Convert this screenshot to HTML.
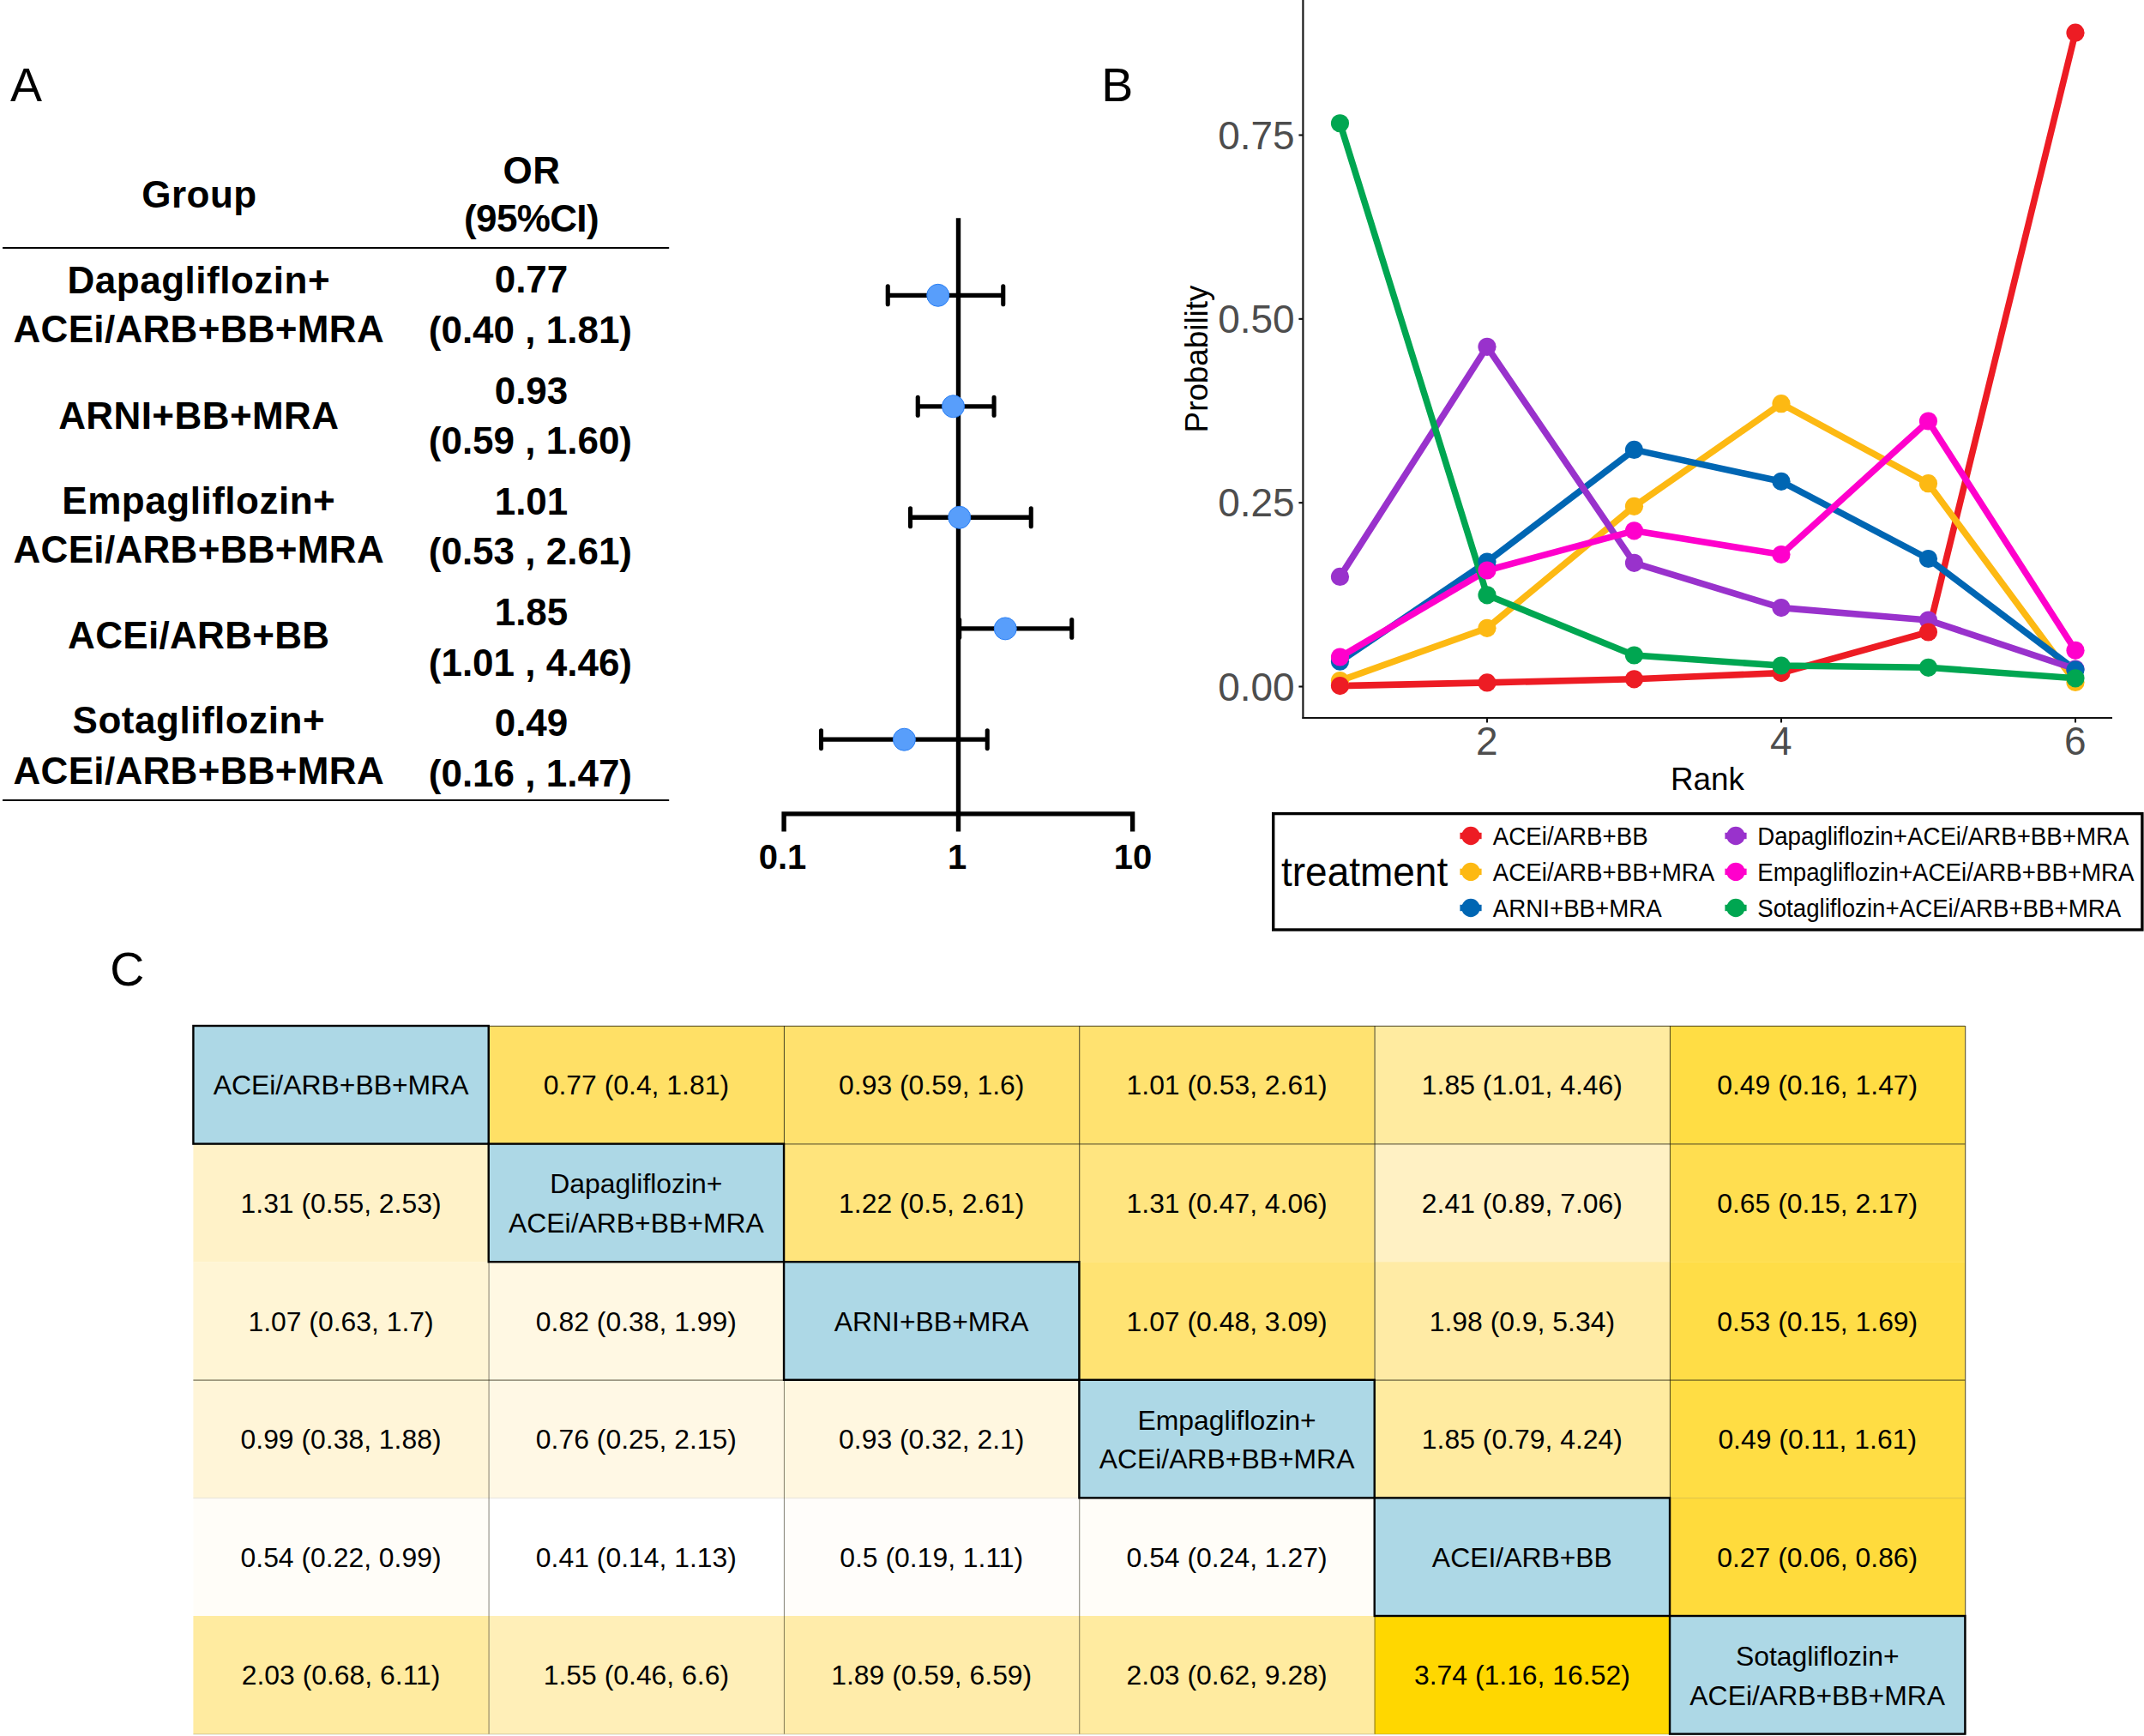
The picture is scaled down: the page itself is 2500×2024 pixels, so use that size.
<!DOCTYPE html>
<html lang="en"><head><meta charset="utf-8"><title>Figure</title>
<style>
html,body{margin:0;padding:0;background:#fff;}
body{width:2500px;height:2024px;overflow:hidden;}
svg{display:block;font-family:"Liberation Sans", sans-serif;}
.b{font-weight:700;}
.m{text-anchor:middle;}
.e{text-anchor:end;}
</style></head><body>
<svg width="2500" height="2024" viewBox="0 0 2500 2024">
<rect x="0" y="0" width="2500" height="2024" fill="#ffffff"/>
<g font-size="55.5" fill="#000">
<text x="12" y="118">A</text>
<text x="1284.3" y="118">B</text>
<text x="128.3" y="1148.5">C</text>
</g>
<g class="b m" font-size="44" fill="#000">
<text x="232.5" y="242" letter-spacing="0.5">Group</text>
<text x="620.0" y="213.75" letter-spacing="0.6">OR</text>
<text x="619.5" y="270" letter-spacing="-0.65">(95%CI)</text>
<text x="231.86" y="342" letter-spacing="0.52">Dapagliflozin+</text>
<text x="231.75" y="399.25" letter-spacing="0.31">ACEi/ARB+BB+MRA</text>
<text x="231.81" y="500" letter-spacing="0.42">ARNI+BB+MRA</text>
<text x="231.86" y="599.25" letter-spacing="0.52">Empagliflozin+</text>
<text x="231.75" y="656.25" letter-spacing="0.31">ACEi/ARB+BB+MRA</text>
<text x="231.75" y="756.25" letter-spacing="0.31">ACEi/ARB+BB</text>
<text x="231.86" y="855" letter-spacing="0.52">Sotagliflozin+</text>
<text x="231.75" y="913.75" letter-spacing="0.31">ACEi/ARB+BB+MRA</text>
<text x="619.5" y="341.25">0.77</text>
<text x="618.4" y="400.00">(0.40 , 1.81)</text>
<text x="619.5" y="470.50">0.93</text>
<text x="618.4" y="529.20">(0.59 , 1.60)</text>
<text x="619.5" y="599.75">1.01</text>
<text x="618.4" y="658.40">(0.53 , 2.61)</text>
<text x="619.5" y="729.00">1.85</text>
<text x="618.4" y="787.60">(1.01 , 4.46)</text>
<text x="619.5" y="858.25">0.49</text>
<text x="618.4" y="916.80">(0.16 , 1.47)</text>
</g>
<line x1="3.8" y1="288.9" x2="779.4" y2="288.9" stroke="#000" stroke-width="2" stroke-linecap="round"/>
<line x1="3.8" y1="932.9" x2="779.4" y2="932.9" stroke="#000" stroke-width="2" stroke-linecap="round"/>
<g stroke="#000" stroke-width="5.4" fill="none" stroke-linecap="butt" stroke-linejoin="miter">
<line x1="1117.5" y1="254.2" x2="1117.5" y2="969.6"/>
<path d="M914.1 969.6 V948.9 H1320.6 V969.6"/>
<line x1="1035.25" y1="344.3" x2="1169.75" y2="344.3" stroke-width="5.3"/>
<line x1="1035.25" y1="333.90" x2="1035.25" y2="354.70" stroke-width="5.1" stroke-linecap="round"/>
<line x1="1169.75" y1="333.90" x2="1169.75" y2="354.70" stroke-width="5.1" stroke-linecap="round"/>
<line x1="1070.25" y1="473.8" x2="1159.10" y2="473.8" stroke-width="5.3"/>
<line x1="1070.25" y1="463.40" x2="1070.25" y2="484.20" stroke-width="5.1" stroke-linecap="round"/>
<line x1="1159.10" y1="463.40" x2="1159.10" y2="484.20" stroke-width="5.1" stroke-linecap="round"/>
<line x1="1061.50" y1="603.25" x2="1202.25" y2="603.25" stroke-width="5.3"/>
<line x1="1061.50" y1="592.85" x2="1061.50" y2="613.65" stroke-width="5.1" stroke-linecap="round"/>
<line x1="1202.25" y1="592.85" x2="1202.25" y2="613.65" stroke-width="5.1" stroke-linecap="round"/>
<line x1="1118.70" y1="732.9" x2="1249.75" y2="732.9" stroke-width="5.3"/>
<line x1="1118.70" y1="722.50" x2="1118.70" y2="743.30" stroke-width="5.1" stroke-linecap="round"/>
<line x1="1249.75" y1="722.50" x2="1249.75" y2="743.30" stroke-width="5.1" stroke-linecap="round"/>
<line x1="957.50" y1="862.2" x2="1151.25" y2="862.2" stroke-width="5.3"/>
<line x1="957.50" y1="851.80" x2="957.50" y2="872.60" stroke-width="5.1" stroke-linecap="round"/>
<line x1="1151.25" y1="851.80" x2="1151.25" y2="872.60" stroke-width="5.1" stroke-linecap="round"/>
</g>
<g fill="#589efb" stroke="#2a7ff4" stroke-width="1">
<circle cx="1093.75" cy="344.3" r="13"/>
<circle cx="1111.50" cy="473.8" r="13"/>
<circle cx="1118.75" cy="603.25" r="13"/>
<circle cx="1172.25" cy="732.9" r="13"/>
<circle cx="1054.40" cy="862.2" r="13"/>
</g>
<g class="b m" font-size="40" fill="#000">
<text x="912.5" y="1012.5">0.1</text>
<text x="1116" y="1012.5">1</text>
<text x="1321" y="1012.5">10</text>
</g>
<g fill="none" stroke-width="7.6" stroke-linejoin="round" stroke-linecap="butt">
<polyline points="1562.50,799.60 1734.00,795.90 1905.50,791.80 2077.00,784.60 2248.50,737.00 2420.00,38.20" stroke="#ed1c24"/>
<polyline points="1562.50,793.60 1734.00,732.30 1905.50,590.30 2077.00,470.70 2248.50,563.70 2420.00,795.50" stroke="#fdb913"/>
<polyline points="1562.50,771.20 1734.00,655.00 1905.50,524.40 2077.00,561.30 2248.50,651.50 2420.00,781.00" stroke="#0066b3"/>
<polyline points="1562.50,672.40 1734.00,404.30 1905.50,656.30 2077.00,708.60 2248.50,723.00 2420.00,780.00" stroke="#9932cc"/>
<polyline points="1562.50,766.00 1734.00,665.00 1905.50,618.80 2077.00,646.50 2248.50,491.00 2420.00,758.30" stroke="#ff00cc"/>
<polyline points="1562.50,143.75 1734.00,693.80 1905.50,764.00 2077.00,776.00 2248.50,778.30 2420.00,790.80" stroke="#00a651"/>
</g>
<g fill="#fdb913">
<circle cx="1562.50" cy="793.60" r="10.6"/>
<circle cx="1734.00" cy="732.30" r="10.6"/>
<circle cx="1905.50" cy="590.30" r="10.6"/>
<circle cx="2077.00" cy="470.70" r="10.6"/>
<circle cx="2248.50" cy="563.70" r="10.6"/>
<circle cx="2420.00" cy="795.50" r="10.6"/>
</g>
<g fill="#9932cc">
<circle cx="1562.50" cy="672.40" r="10.6"/>
<circle cx="1734.00" cy="404.30" r="10.6"/>
<circle cx="1905.50" cy="656.30" r="10.6"/>
<circle cx="2077.00" cy="708.60" r="10.6"/>
<circle cx="2248.50" cy="723.00" r="10.6"/>
<circle cx="2420.00" cy="780.00" r="10.6"/>
</g>
<g fill="#0066b3">
<circle cx="1562.50" cy="771.20" r="10.6"/>
<circle cx="1734.00" cy="655.00" r="10.6"/>
<circle cx="1905.50" cy="524.40" r="10.6"/>
<circle cx="2077.00" cy="561.30" r="10.6"/>
<circle cx="2248.50" cy="651.50" r="10.6"/>
<circle cx="2420.00" cy="781.00" r="10.6"/>
</g>
<g fill="#ff00cc">
<circle cx="1562.50" cy="766.00" r="10.6"/>
<circle cx="1734.00" cy="665.00" r="10.6"/>
<circle cx="1905.50" cy="618.80" r="10.6"/>
<circle cx="2077.00" cy="646.50" r="10.6"/>
<circle cx="2248.50" cy="491.00" r="10.6"/>
<circle cx="2420.00" cy="758.30" r="10.6"/>
</g>
<g fill="#ed1c24">
<circle cx="1562.50" cy="799.60" r="10.6"/>
<circle cx="1734.00" cy="795.90" r="10.6"/>
<circle cx="1905.50" cy="791.80" r="10.6"/>
<circle cx="2077.00" cy="784.60" r="10.6"/>
<circle cx="2248.50" cy="737.00" r="10.6"/>
<circle cx="2420.00" cy="38.20" r="10.6"/>
</g>
<g fill="#00a651">
<circle cx="1562.50" cy="143.75" r="10.6"/>
<circle cx="1734.00" cy="693.80" r="10.6"/>
<circle cx="1905.50" cy="764.00" r="10.6"/>
<circle cx="2077.00" cy="776.00" r="10.6"/>
<circle cx="2248.50" cy="778.30" r="10.6"/>
<circle cx="2420.00" cy="790.80" r="10.6"/>
</g>
<g stroke="#111" stroke-width="2.1" fill="none">
<line x1="1519.4" y1="0" x2="1519.4" y2="837.9"/>
<line x1="1518.5" y1="837.0" x2="2463.0" y2="837.0"/>
<line x1="1514.4" y1="800.50" x2="1519.4" y2="800.50"/>
<line x1="1514.4" y1="586.17" x2="1519.4" y2="586.17"/>
<line x1="1514.4" y1="371.85" x2="1519.4" y2="371.85"/>
<line x1="1514.4" y1="157.53" x2="1519.4" y2="157.53"/>
<line x1="1734.00" y1="837.0" x2="1734.00" y2="842.5"/>
<line x1="2077.00" y1="837.0" x2="2077.00" y2="842.5"/>
<line x1="2420.00" y1="837.0" x2="2420.00" y2="842.5"/>
</g>
<g font-size="46" fill="#4d4d4d" class="e">
<text x="1509.7" y="816.50">0.00</text>
<text x="1509.7" y="602.17">0.25</text>
<text x="1509.7" y="387.85">0.50</text>
<text x="1509.7" y="173.53">0.75</text>
</g>
<g font-size="46" fill="#4d4d4d" class="m">
<text x="1733.70" y="879.8">2</text>
<text x="2076.70" y="879.8">4</text>
<text x="2419.70" y="879.8">6</text>
</g>
<g font-size="36.8" fill="#000" class="m">
<text x="1991" y="920.5">Rank</text>
<text transform="translate(1408 418.5) rotate(-90)" x="0" y="0">Probability</text>
</g>
<rect x="1484.7" y="948.6" width="1013.2" height="135.4" fill="#fff" stroke="#000" stroke-width="3.4"/>
<text transform="translate(1494 1033.2) scale(1 1.04)" font-size="46" fill="#000">treatment</text>
<g font-size="27.7" fill="#000">
<line x1="1702.4" y1="974.5" x2="1727.6" y2="974.5" stroke="#ed1c24" stroke-width="7.4"/>
<circle cx="1715" cy="974.5" r="10.7" fill="#ed1c24"/>
<text transform="translate(1740.8 985.0) scale(1 1.04)">ACEi/ARB+BB</text>
<line x1="1702.4" y1="1016.4" x2="1727.6" y2="1016.4" stroke="#fdb913" stroke-width="7.4"/>
<circle cx="1715" cy="1016.4" r="10.7" fill="#fdb913"/>
<text transform="translate(1740.8 1026.8) scale(1 1.04)">ACEi/ARB+BB+MRA</text>
<line x1="1702.4" y1="1058.5" x2="1727.6" y2="1058.5" stroke="#0066b3" stroke-width="7.4"/>
<circle cx="1715" cy="1058.5" r="10.7" fill="#0066b3"/>
<text transform="translate(1740.8 1068.8) scale(1 1.04)">ARNI+BB+MRA</text>
<line x1="2011.4" y1="974.5" x2="2036.6" y2="974.5" stroke="#9932cc" stroke-width="7.4"/>
<circle cx="2024" cy="974.5" r="10.7" fill="#9932cc"/>
<text transform="translate(2049.2 985.0) scale(1 1.04)">Dapagliflozin+ACEi/ARB+BB+MRA</text>
<line x1="2011.4" y1="1016.4" x2="2036.6" y2="1016.4" stroke="#ff00cc" stroke-width="7.4"/>
<circle cx="2024" cy="1016.4" r="10.7" fill="#ff00cc"/>
<text transform="translate(2049.2 1026.8) scale(1 1.04)">Empagliflozin+ACEi/ARB+BB+MRA</text>
<line x1="2011.4" y1="1058.5" x2="2036.6" y2="1058.5" stroke="#00a651" stroke-width="7.4"/>
<circle cx="2024" cy="1058.5" r="10.7" fill="#00a651"/>
<text transform="translate(2049.2 1068.8) scale(1 1.04)">Sotagliflozin+ACEi/ARB+BB+MRA</text>
</g>
<rect x="569.73" y="1196.00" width="344.63" height="137.90" fill="#ffe066"/>
<rect x="914.06" y="1196.00" width="344.63" height="137.90" fill="#ffe16e"/>
<rect x="1258.39" y="1196.00" width="344.63" height="137.90" fill="#ffe270"/>
<rect x="1602.72" y="1196.00" width="344.63" height="137.90" fill="#ffeba0"/>
<rect x="1947.05" y="1196.00" width="344.63" height="137.90" fill="#ffdd44"/>
<rect x="225.40" y="1333.60" width="344.63" height="137.90" fill="#fff2c8"/>
<rect x="914.06" y="1333.60" width="344.63" height="137.90" fill="#ffe47c"/>
<rect x="1258.39" y="1333.60" width="344.63" height="137.90" fill="#ffe580"/>
<rect x="1602.72" y="1333.60" width="344.63" height="137.90" fill="#fff1c4"/>
<rect x="1947.05" y="1333.60" width="344.63" height="137.90" fill="#ffde50"/>
<rect x="225.40" y="1471.20" width="344.63" height="137.90" fill="#fff5d5"/>
<rect x="569.73" y="1471.20" width="344.63" height="137.90" fill="#fff8e3"/>
<rect x="1258.39" y="1471.20" width="344.63" height="137.90" fill="#ffe373"/>
<rect x="1602.72" y="1471.20" width="344.63" height="137.90" fill="#ffeba5"/>
<rect x="1947.05" y="1471.20" width="344.63" height="137.90" fill="#ffdd47"/>
<rect x="225.40" y="1608.80" width="344.63" height="137.90" fill="#fff5d8"/>
<rect x="569.73" y="1608.80" width="344.63" height="137.90" fill="#fff8e5"/>
<rect x="914.06" y="1608.80" width="344.63" height="137.90" fill="#fff7e0"/>
<rect x="1602.72" y="1608.80" width="344.63" height="137.90" fill="#ffeba0"/>
<rect x="1947.05" y="1608.80" width="344.63" height="137.90" fill="#ffdd44"/>
<rect x="225.40" y="1746.40" width="344.63" height="137.90" fill="#fffdf8"/>
<rect x="569.73" y="1746.40" width="344.63" height="137.90" fill="#ffffff"/>
<rect x="914.06" y="1746.40" width="344.63" height="137.90" fill="#fffdfa"/>
<rect x="1258.39" y="1746.40" width="344.63" height="137.90" fill="#fffdf8"/>
<rect x="1947.05" y="1746.40" width="344.63" height="137.90" fill="#ffdb3c"/>
<rect x="225.40" y="1884.00" width="344.63" height="137.90" fill="#ffeba0"/>
<rect x="569.73" y="1884.00" width="344.63" height="137.90" fill="#ffefb8"/>
<rect x="914.06" y="1884.00" width="344.63" height="137.90" fill="#ffecaa"/>
<rect x="1258.39" y="1884.00" width="344.63" height="137.90" fill="#ffeba0"/>
<rect x="1602.72" y="1884.00" width="344.63" height="137.90" fill="#ffd700"/>
<g stroke="#2a2814" stroke-width="1" fill="none">
<line x1="570.08" y1="1196.00" x2="570.08" y2="1333.60" stroke-opacity="0.85"/>
<line x1="570.08" y1="1333.60" x2="570.08" y2="2021.60" stroke-opacity="0.58"/>
<line x1="914.41" y1="1196.00" x2="914.41" y2="1471.20" stroke-opacity="0.85"/>
<line x1="914.41" y1="1471.20" x2="914.41" y2="2021.60" stroke-opacity="0.58"/>
<line x1="1258.74" y1="1196.00" x2="1258.74" y2="1608.80" stroke-opacity="0.85"/>
<line x1="1258.74" y1="1608.80" x2="1258.74" y2="2021.60" stroke-opacity="0.58"/>
<line x1="1603.07" y1="1196.00" x2="1603.07" y2="1746.40" stroke-opacity="0.85"/>
<line x1="1603.07" y1="1746.40" x2="1603.07" y2="2021.60" stroke-opacity="0.58"/>
<line x1="1947.40" y1="1196.00" x2="1947.40" y2="1884.00" stroke-opacity="0.85"/>
<line x1="1947.40" y1="1884.00" x2="1947.40" y2="2021.60" stroke-opacity="0.58"/>
<line x1="2291.73" y1="1196.00" x2="2291.73" y2="2021.60" stroke-opacity="0.85"/>
<line x1="225.40" y1="1196.30" x2="2291.38" y2="1196.30" stroke-opacity="0.85"/>
<line x1="569.73" y1="1333.90" x2="2291.38" y2="1333.90" stroke-opacity="0.85"/>
<line x1="1258.39" y1="1609.10" x2="2291.38" y2="1609.10" stroke-opacity="0.85"/>
<line x1="225.40" y1="1609.10" x2="1258.39" y2="1609.10" stroke-opacity="0.8"/>
<line x1="1602.72" y1="1746.70" x2="2291.38" y2="1746.70" stroke-opacity="0.16"/>
<line x1="225.40" y1="1746.70" x2="1602.72" y2="1746.70" stroke-opacity="0.12"/>
<line x1="225.40" y1="2021.90" x2="2291.38" y2="2021.90" stroke-opacity="0.22"/>
</g>
<rect x="225.40" y="1196.00" width="344.33" height="137.60" fill="#add8e6" stroke="#000" stroke-width="2.4"/>
<rect x="569.73" y="1333.60" width="344.33" height="137.60" fill="#add8e6" stroke="#000" stroke-width="2.4"/>
<rect x="914.06" y="1471.20" width="344.33" height="137.60" fill="#add8e6" stroke="#000" stroke-width="2.4"/>
<rect x="1258.39" y="1608.80" width="344.33" height="137.60" fill="#add8e6" stroke="#000" stroke-width="2.4"/>
<rect x="1602.72" y="1746.40" width="344.33" height="137.60" fill="#add8e6" stroke="#000" stroke-width="2.4"/>
<rect x="1947.05" y="1884.00" width="344.33" height="137.60" fill="#add8e6" stroke="#000" stroke-width="2.4"/>
<g font-size="31.9" fill="#000" class="m">
<text x="397.56" y="1276.40">ACEi/ARB+BB+MRA</text>
<text x="741.89" y="1276.40">0.77 (0.4, 1.81)</text>
<text x="1086.22" y="1276.40">0.93 (0.59, 1.6)</text>
<text x="1430.56" y="1276.40">1.01 (0.53, 2.61)</text>
<text x="1774.88" y="1276.40">1.85 (1.01, 4.46)</text>
<text x="2119.22" y="1276.40">0.49 (0.16, 1.47)</text>
<text x="397.56" y="1414.00">1.31 (0.55, 2.53)</text>
<text x="741.89" y="1391.40">Dapagliflozin+</text>
<text x="741.89" y="1437.10">ACEi/ARB+BB+MRA</text>
<text x="1086.22" y="1414.00">1.22 (0.5, 2.61)</text>
<text x="1430.56" y="1414.00">1.31 (0.47, 4.06)</text>
<text x="1774.88" y="1414.00">2.41 (0.89, 7.06)</text>
<text x="2119.22" y="1414.00">0.65 (0.15, 2.17)</text>
<text x="397.56" y="1551.60">1.07 (0.63, 1.7)</text>
<text x="741.89" y="1551.60">0.82 (0.38, 1.99)</text>
<text x="1086.22" y="1551.60">ARNI+BB+MRA</text>
<text x="1430.56" y="1551.60">1.07 (0.48, 3.09)</text>
<text x="1774.88" y="1551.60">1.98 (0.9, 5.34)</text>
<text x="2119.22" y="1551.60">0.53 (0.15, 1.69)</text>
<text x="397.56" y="1689.20">0.99 (0.38, 1.88)</text>
<text x="741.89" y="1689.20">0.76 (0.25, 2.15)</text>
<text x="1086.22" y="1689.20">0.93 (0.32, 2.1)</text>
<text x="1430.56" y="1666.60">Empagliflozin+</text>
<text x="1430.56" y="1712.30">ACEi/ARB+BB+MRA</text>
<text x="1774.88" y="1689.20">1.85 (0.79, 4.24)</text>
<text x="2119.22" y="1689.20">0.49 (0.11, 1.61)</text>
<text x="397.56" y="1826.80">0.54 (0.22, 0.99)</text>
<text x="741.89" y="1826.80">0.41 (0.14, 1.13)</text>
<text x="1086.22" y="1826.80">0.5 (0.19, 1.11)</text>
<text x="1430.56" y="1826.80">0.54 (0.24, 1.27)</text>
<text x="1774.88" y="1826.80">ACEI/ARB+BB</text>
<text x="2119.22" y="1826.80">0.27 (0.06, 0.86)</text>
<text x="397.56" y="1964.40">2.03 (0.68, 6.11)</text>
<text x="741.89" y="1964.40">1.55 (0.46, 6.6)</text>
<text x="1086.22" y="1964.40">1.89 (0.59, 6.59)</text>
<text x="1430.56" y="1964.40">2.03 (0.62, 9.28)</text>
<text x="1774.88" y="1964.40">3.74 (1.16, 16.52)</text>
<text x="2119.22" y="1941.80">Sotagliflozin+</text>
<text x="2119.22" y="1987.50">ACEi/ARB+BB+MRA</text>
</g>
</svg></body></html>
